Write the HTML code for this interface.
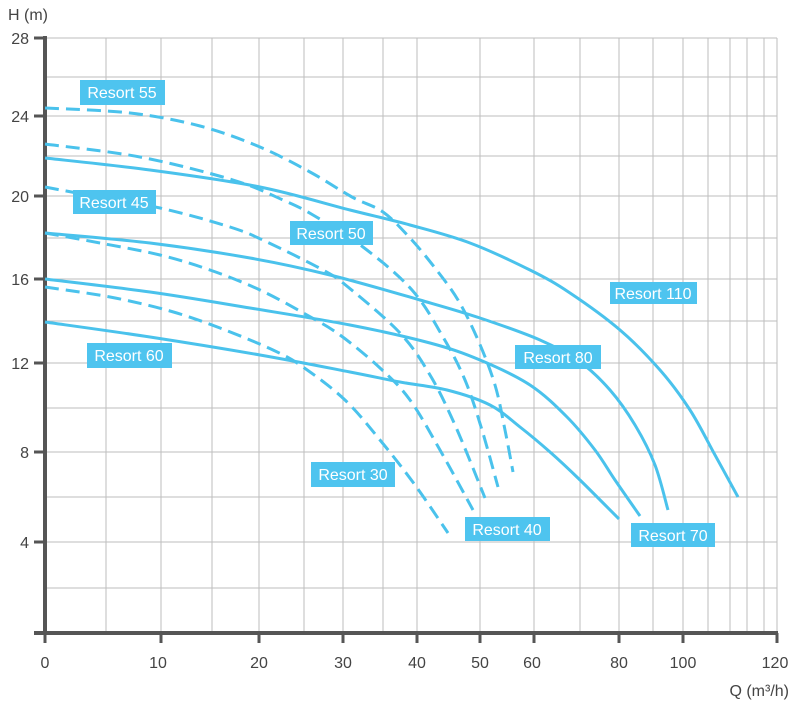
<!DOCTYPE html>
<html><head><meta charset="utf-8"><style>
html,body{margin:0;padding:0;background:#fff;}
svg{display:block;}
text{font-family:"Liberation Sans",sans-serif;}
</style></head><body>
<svg id="c" width="800" height="704" viewBox="0 0 800 704" xmlns="http://www.w3.org/2000/svg">
<g stroke="#bdbdbd" stroke-width="1">
<line x1="106" y1="38" x2="106" y2="633"/><line x1="161" y1="38" x2="161" y2="633"/><line x1="212" y1="38" x2="212" y2="633"/><line x1="259" y1="38" x2="259" y2="633"/><line x1="304" y1="38" x2="304" y2="633"/><line x1="343" y1="38" x2="343" y2="633"/><line x1="383" y1="38" x2="383" y2="633"/><line x1="417" y1="38" x2="417" y2="633"/><line x1="480" y1="38" x2="480" y2="633"/><line x1="534" y1="38" x2="534" y2="633"/><line x1="580" y1="38" x2="580" y2="633"/><line x1="619" y1="38" x2="619" y2="633"/><line x1="653" y1="38" x2="653" y2="633"/><line x1="683" y1="38" x2="683" y2="633"/><line x1="708" y1="38" x2="708" y2="633"/><line x1="730" y1="38" x2="730" y2="633"/><line x1="747" y1="38" x2="747" y2="633"/><line x1="764" y1="38" x2="764" y2="633"/><line x1="777" y1="38" x2="777" y2="633"/>
<line x1="45" y1="38" x2="777" y2="38"/><line x1="45" y1="77" x2="777" y2="77"/><line x1="45" y1="116" x2="777" y2="116"/><line x1="45" y1="156" x2="777" y2="156"/><line x1="45" y1="196" x2="777" y2="196"/><line x1="45" y1="238" x2="777" y2="238"/><line x1="45" y1="279" x2="777" y2="279"/><line x1="45" y1="321" x2="777" y2="321"/><line x1="45" y1="363" x2="777" y2="363"/><line x1="45" y1="408" x2="777" y2="408"/><line x1="45" y1="452" x2="777" y2="452"/><line x1="45" y1="497" x2="777" y2="497"/><line x1="45" y1="542" x2="777" y2="542"/><line x1="45" y1="588" x2="777" y2="588"/>
</g>
<g stroke="#555" stroke-width="4" fill="none">
<line x1="45" y1="36" x2="45" y2="635"/><line x1="34" y1="633" x2="778" y2="633"/>
</g>
<g stroke="#555" stroke-width="3">
<line x1="34" y1="38" x2="45" y2="38"/><line x1="34" y1="116" x2="45" y2="116"/><line x1="34" y1="196" x2="45" y2="196"/><line x1="34" y1="279" x2="45" y2="279"/><line x1="34" y1="363" x2="45" y2="363"/><line x1="34" y1="452" x2="45" y2="452"/><line x1="34" y1="542" x2="45" y2="542"/>
<line x1="45" y1="633" x2="45" y2="643"/><line x1="161" y1="633" x2="161" y2="643"/><line x1="259" y1="633" x2="259" y2="643"/><line x1="343" y1="633" x2="343" y2="643"/><line x1="417" y1="633" x2="417" y2="643"/><line x1="480" y1="633" x2="480" y2="643"/><line x1="534" y1="633" x2="534" y2="643"/><line x1="619" y1="633" x2="619" y2="643"/><line x1="683" y1="633" x2="683" y2="643"/><line x1="777" y1="633" x2="777" y2="643"/>
</g>
<g fill="#444" font-size="16">
<text x="8" y="20">H (m)</text>
<g text-anchor="end"><text x="29" y="44">28</text><text x="29" y="122">24</text><text x="29" y="202">20</text><text x="29" y="285">16</text><text x="29" y="369">12</text><text x="29" y="458">8</text><text x="29" y="548">4</text></g>
<g text-anchor="middle"><text x="45" y="668">0</text><text x="158" y="668">10</text><text x="259" y="668">20</text><text x="343" y="668">30</text><text x="417" y="668">40</text><text x="480" y="668">50</text><text x="532" y="668">60</text><text x="619" y="668">80</text><text x="683" y="668">100</text><text x="775" y="668">120</text></g>
<text x="789" y="696" text-anchor="end">Q (m³/h)</text>
</g>
<g id="curves" fill="none" stroke="#4ac2ec" stroke-width="3" stroke-linejoin="round">
<path data-p="45,158 150,170 260,187 350,210 410,225 470,243 530,270 570,293 620,330 660,370 690,410 715,455 738,497" d="M45,158 L738,497"/>
<path data-p="45,233 150,243 250,258 330,275 420,300 480,318 540,340 580,362 610,390 635,425 655,465 668,510" d="M45,233 L668,510"/>
<path data-p="45,279 150,292 250,308 350,325 430,343 480,360 530,385 567,417 595,450 615,480 640,516" d="M45,279 L640,516"/>
<path data-p="45,322 150,337 260,355 350,372 400,382 447,390 490,405 520,427 550,452 580,480 619,519" d="M45,322 L619,519"/>
<g stroke-dasharray="14,7">
<path data-p="45,108 130,113 200,126 260,147 310,172 352,197 383,212 410,238 435,268 458,300 478,340 495,385 505,430 513,472" d="M45,108 L513,472"/>
<path data-p="45,144 140,157 233,180 283,200 313,215 363,247 412,290 443,337 465,380 482,430 498,487" d="M45,144 L498,487"/>
<path data-p="45,187 77,193 160,208 230,227 267,242 323,270 348,287 400,333 430,375 455,425 485,498" d="M45,187 L485,498"/>
<path data-p="45,233 100,243 160,255 210,270 260,290 307,315 340,335 380,368 410,400 440,450 473,510" d="M45,233 L473,510"/>
<path data-p="45,287 110,297 170,311 220,328 273,350 303,367 345,400 380,440 415,485 448,533" d="M45,287 L448,533"/>
</g>
</g>
<g fill="#4ec4ef">
<rect x="80" y="80" width="85" height="25"/><rect x="73" y="190" width="83" height="24"/><rect x="290" y="221" width="83" height="24"/><rect x="87" y="343" width="85" height="25"/><rect x="311" y="462" width="84" height="25"/><rect x="465" y="517" width="85" height="24"/><rect x="631" y="523" width="84" height="24"/><rect x="515" y="345" width="86" height="24"/><rect x="610" y="282" width="87" height="22"/>
</g>
<g fill="#fff" font-size="16" text-anchor="middle">
<text x="122" y="98">Resort 55</text><text x="114" y="208">Resort 45</text><text x="331" y="239">Resort 50</text><text x="129" y="361">Resort 60</text><text x="353" y="480">Resort 30</text><text x="507" y="535">Resort 40</text><text x="673" y="541">Resort 70</text><text x="558" y="363">Resort 80</text><text x="653" y="299">Resort 110</text>
</g>
</svg>
<script>
document.querySelectorAll('#curves path').forEach(function(el){
  var p=el.getAttribute('data-p').trim().split(/\s+/).map(function(s){return s.split(',').map(Number);});
  var d='M'+p[0][0]+','+p[0][1];
  for(var i=0;i<p.length-1;i++){
    var p0=p[i-1]||p[i],p1=p[i],p2=p[i+1],p3=p[i+2]||p2;
    var c1x=p1[0]+(p2[0]-p0[0])/6,c1y=p1[1]+(p2[1]-p0[1])/6;
    var c2x=p2[0]-(p3[0]-p1[0])/6,c2y=p2[1]-(p3[1]-p1[1])/6;
    d+=' C'+c1x.toFixed(1)+','+c1y.toFixed(1)+' '+c2x.toFixed(1)+','+c2y.toFixed(1)+' '+p2[0]+','+p2[1];
  }
  el.setAttribute('d',d);
  el.removeAttribute('data-p');
});
</script>
</body></html>
